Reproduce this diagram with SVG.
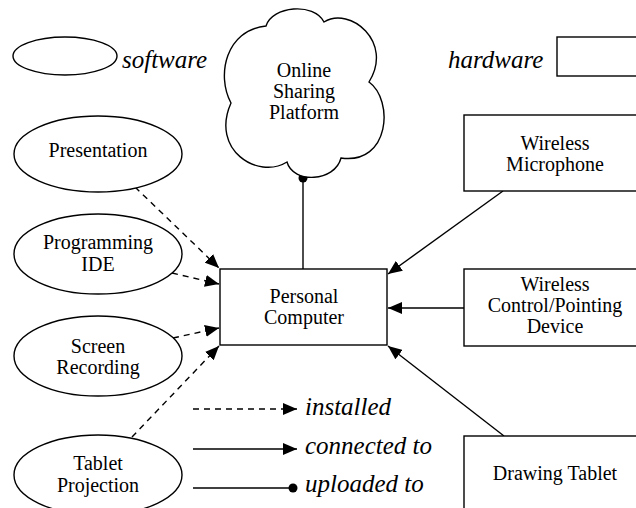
<svg xmlns="http://www.w3.org/2000/svg" width="636" height="508" viewBox="0 0 636 508">
<style>
.shape{fill:#fff;stroke:#000;stroke-width:1.4}
.lbl{font-family:'Liberation Serif','Times New Roman',serif;font-size:20px;fill:#000;text-anchor:middle}
.leg{font-family:'Liberation Serif','Times New Roman',serif;font-size:25px;font-style:italic;fill:#000}
.edge{fill:none;stroke:#000;stroke-width:1.4}
.dash{stroke-dasharray:6,5}
</style>
<defs>
<marker id="arr" markerUnits="userSpaceOnUse" markerWidth="14" markerHeight="12" viewBox="0 0 14 12" refX="14" refY="6" orient="auto">
<path d="M0,0 L14,6 L0,12 Z" fill="#000"/>
</marker>
<marker id="dot" markerUnits="userSpaceOnUse" markerWidth="10" markerHeight="10" viewBox="0 0 10 10" refX="5" refY="5" orient="auto">
<circle cx="5" cy="5" r="4.5" fill="#000"/>
</marker>
</defs>
<rect width="636" height="508" fill="#fff"/>

<g id="legend">
<ellipse class="shape" cx="65" cy="56" rx="52" ry="19"/>
<text class="leg" x="122" y="68">software</text>
<text class="leg" x="448" y="68">hardware</text>
<rect class="shape" x="557" y="37" width="100" height="39"/>
<line class="edge dash" x1="193" y1="409" x2="297" y2="409" marker-end="url(#arr)"/>
<text class="leg" x="305" y="415">installed</text>
<line class="edge" x1="193" y1="449" x2="297" y2="449" marker-end="url(#arr)"/>
<text class="leg" x="305" y="454">connected to</text>
<line class="edge" x1="193" y1="488" x2="293" y2="488" marker-end="url(#dot)"/>
<text class="leg" x="305" y="492">uploaded to</text>
</g>

<g id="connectors">
<line class="edge" x1="303" y1="269" x2="303" y2="178" marker-end="url(#dot)"/>
<line class="edge dash" x1="135" y1="187" x2="219" y2="268" marker-end="url(#arr)"/>
<line class="edge dash" x1="172" y1="273" x2="219" y2="284" marker-end="url(#arr)"/>
<line class="edge dash" x1="173" y1="338" x2="219" y2="328" marker-end="url(#arr)"/>
<line class="edge dash" x1="132" y1="437" x2="219" y2="346" marker-end="url(#arr)"/>
<line class="edge" x1="503" y1="191" x2="388" y2="274" marker-end="url(#arr)"/>
<line class="edge" x1="464" y1="308" x2="388" y2="308" marker-end="url(#arr)"/>
<line class="edge" x1="504" y1="436" x2="388" y2="346" marker-end="url(#arr)"/>
</g>

<g id="cloud">
<path class="shape" d="M231,103 C216,75 226,30 266,26 C272,6 314,2 324,22 C350,6 394,42 369,82 C394,100 390,165 341,158 C335,182 293,184 287,162 C258,180 210,150 231,103 Z"/>
<text class="lbl" x="304" y="77">Online</text>
<text class="lbl" x="304" y="98">Sharing</text>
<text class="lbl" x="304" y="119">Platform</text>
</g>

<g id="pc">
<rect class="shape" x="220" y="269" width="167" height="76"/>
<text class="lbl" x="304" y="303">Personal</text>
<text class="lbl" x="304" y="324">Computer</text>
</g>

<g id="presentation">
<ellipse class="shape" cx="98" cy="154" rx="84" ry="38"/>
<text class="lbl" x="98" y="157">Presentation</text>
</g>
<g id="ide">
<ellipse class="shape" cx="98" cy="254" rx="84" ry="40"/>
<text class="lbl" x="98" y="249">Programming</text>
<text class="lbl" x="98" y="271">IDE</text>
</g>
<g id="screen">
<ellipse class="shape" cx="98" cy="356" rx="84" ry="40"/>
<text class="lbl" x="98" y="353">Screen</text>
<text class="lbl" x="98" y="374">Recording</text>
</g>
<g id="tablet-projection">
<ellipse class="shape" cx="98" cy="475" rx="84" ry="40"/>
<text class="lbl" x="98" y="470">Tablet</text>
<text class="lbl" x="98" y="492">Projection</text>
</g>

<g id="microphone">
<rect class="shape" x="464" y="115" width="182" height="76"/>
<text class="lbl" x="555" y="150">Wireless</text>
<text class="lbl" x="555" y="171">Microphone</text>
</g>
<g id="pointing">
<rect class="shape" x="464" y="269" width="182" height="77"/>
<text class="lbl" x="555" y="291">Wireless</text>
<text class="lbl" x="555" y="312">Control/Pointing</text>
<text class="lbl" x="555" y="333">Device</text>
</g>
<g id="drawing-tablet">
<rect class="shape" x="464" y="436" width="182" height="80"/>
<text class="lbl" x="555" y="480">Drawing Tablet</text>
</g>
</svg>
